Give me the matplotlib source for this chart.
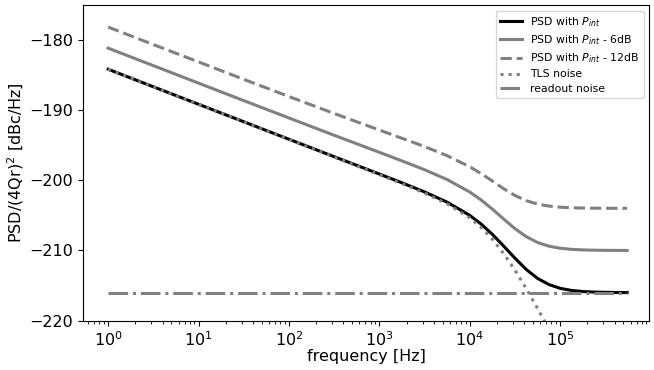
import matplotlib
matplotlib.use("Agg")
import matplotlib.pyplot as plt

# frequencies [Hz]
freq = [1.0, 3.16, 10.0, 31.6, 100.0, 316.0, 1000.0, 1778.0, 3162.0, 5623.0,
        10000.0, 13335.0, 17783.0, 23714.0, 31623.0, 42170.0, 56234.0, 74989.0,
        100000.0, 133352.0, 177828.0, 237137.0, 316228.0, 421697.0, 550000.0]

psd_pint = [-184.20, -186.70, -189.19, -191.68, -194.17, -196.65, -199.12, -200.37,
            -201.67, -203.13, -205.01, -206.24, -207.71, -209.38, -211.11, -212.71,
            -213.98, -214.85, -215.39, -215.69, -215.85, -215.92, -215.96, -215.98, -215.99]

psd_6db = [-181.20, -183.69, -186.18, -188.67, -191.14, -193.60, -196.03, -197.25,
           -198.51, -199.91, -201.68, -202.81, -204.12, -205.53, -206.90, -208.04,
           -208.87, -209.39, -209.68, -209.84, -209.92, -209.96, -209.98, -209.99, -210.00]

psd_12db = [-178.20, -180.69, -183.16, -185.64, -188.09, -190.50, -192.86, -194.03,
            -195.21, -196.51, -198.09, -199.05, -200.12, -201.21, -202.18, -202.91,
            -203.40, -203.68, -203.84, -203.92, -203.96, -203.98, -203.99, -204.00, -204.00]

tls_noise = [-184.20, -186.70, -189.20, -191.70, -194.20, -196.70, -199.21, -200.49,
             -201.83, -203.36, -205.37, -206.73, -208.41, -210.45, -212.82, -215.45,
             -218.27, -221.20, -224.20, -227.30, -230.40, -233.50, -236.60, -239.70, -242.60]

readout_freq = [1.0, 550000.0]
readout_noise = [-216.0, -216.0]

labels = ["PSD with $P_{int}$", "PSD with $P_{int}$ - 6dB", "PSD with $P_{int}$ - 12dB",
          "TLS noise", "readout noise"]

fig = plt.figure(figsize=(6.54, 3.70), dpi=100)
ax = fig.add_axes([0.1269, 0.1332, 0.8655, 0.8525])

ax.plot(freq, psd_pint, color="black", lw=2.2, label=labels[0])
ax.plot(freq, psd_6db, color="gray", lw=2.2, label=labels[1])
ax.plot(freq, psd_12db, color="gray", lw=2.2, ls="--", label=labels[2])
ax.plot(freq, tls_noise, color="gray", lw=2.2, ls=":", label=labels[3])
ax.plot(readout_freq, readout_noise, color="gray", lw=2.2, ls="-.", label=labels[4])

ax.set_xscale("log")
ax.set_xlim(0.527, 9.6e5)
ax.set_ylim(-220, -175.1)
ax.set_yticks([-220, -210, -200, -190, -180])
ax.tick_params(axis="both", labelsize=11.5)
ax.set_xlabel("frequency [Hz]", fontsize=11.5, labelpad=0)
ax.set_ylabel("PSD/(4Qr)$^2$ [dBc/Hz]", fontsize=11.5, labelpad=2)
ax.legend(loc="upper right", fontsize=7.8, labelspacing=0.4)

fig.savefig("out.png", dpi=100)
